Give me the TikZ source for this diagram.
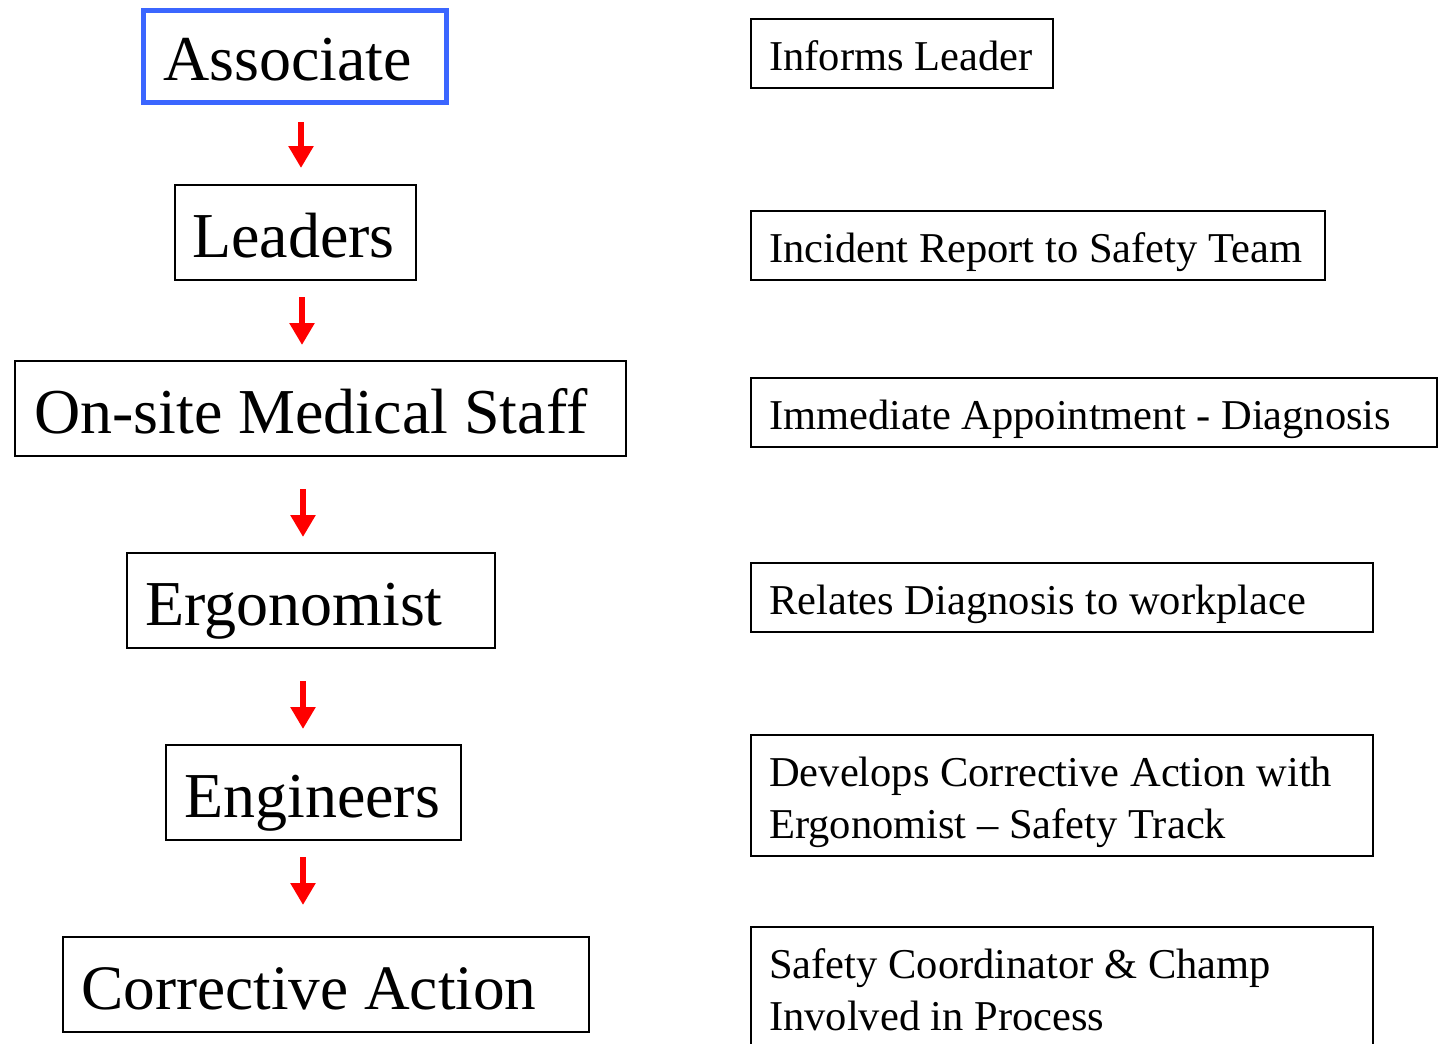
\documentclass[tikz,border=0pt]{standalone}
\usepackage{fontspec}
\setmainfont{Liberation Serif}
\usetikzlibrary{arrows.meta}
\definecolor{boxblue}{RGB}{59,102,255}
\begin{document}
\begin{tikzpicture}[x=1pt,y=-1pt,
  lbox/.style={draw=black, line width=2pt, minimum height=95pt, anchor=north west, inner sep=0pt, outer sep=0pt},
  rbox/.style={draw=black, line width=2pt, minimum height=69pt, anchor=north west, inner sep=0pt, outer sep=0pt},
  ltext/.style={anchor=base west, inner sep=0pt, font=\fontsize{64}{77}\selectfont},
  rtext/.style={anchor=base west, inner sep=0pt, font=\fontsize{42.5}{52}\selectfont},
  redarrow/.style={draw=red, line width=6pt, -{Triangle[width=24pt,length=22pt]}}]
\useasboundingbox (0,0) rectangle (1441,1044);
\clip (0,0) rectangle (1441,1044);
% left column boxes
\node[lbox, draw=boxblue, line width=5pt, minimum width=303pt, minimum height=92pt] (a) at (143.5,10.5) {};
\node[lbox, minimum width=241pt] (b) at (175,185) {};
\node[lbox, minimum width=611pt] (c) at (15,361) {};
\node[lbox, minimum width=368pt] (d) at (127,553) {};
\node[lbox, minimum width=295pt] (e) at (166,745) {};
\node[lbox, minimum width=526pt] (f) at (63,937) {};
% left texts
\node[ltext] (ta) at (163,80) {Associate};
\node[ltext] (tb) at (192,257) {Leaders};
\node[ltext] (tc) at (34,433) {On-site Medical Staff};
\node[ltext] (td) at (145,625) {Ergonomist};
\node[ltext] (te) at (184,817) {Engineers};
\node[ltext, font=\fontsize{63.3}{77}\selectfont] (tf) at (81,1009) {Corrective Action};
% arrows
\coordinate (x1) at (301,0);
\coordinate (x2) at (302,0);
\coordinate (x3) at (303,0);
\draw[redarrow, shorten <=19.5pt, shorten >=17pt] (a.south -| x1) -- (b.north -| x1);
\draw[redarrow, shorten <=17pt, shorten >=16pt] (b.south -| x2) -- (c.north -| x2);
\draw[redarrow, shorten <=33pt, shorten >=16pt] (c.south -| x3) -- (d.north -| x3);
\draw[redarrow, shorten <=33pt, shorten >=16pt] (d.south -| x3) -- (e.north -| x3);
\draw[redarrow, shorten <=17pt, shorten >=32pt] (e.south -| x3) -- (f.north -| x3);
% right column boxes
\node[rbox, minimum width=302pt] (r1) at (751,19) {};
\node[rbox, minimum width=574pt] (r2) at (751,211) {};
\node[rbox, minimum width=686pt] (r3) at (751,378) {};
\node[rbox, minimum width=622pt] (r4) at (751,563) {};
\node[rbox, minimum width=622pt, minimum height=121pt] (r5) at (751,735) {};
\node[rbox, minimum width=622pt, minimum height=140pt] (r6) at (751,927) {};
% right texts
\node[rtext] (s1) at (769,70) {Informs Leader};
\node[rtext] (s2) at (769,262) {Incident Report to Safety Team};
\node[rtext] (s3) at (769,429) {Immediate Appointment - Diagnosis};
\node[rtext] (s4) at (769,614) {Relates Diagnosis to workplace};
\node[rtext] (s5a) at (769,786) {Develops Corrective Action with};
\node[rtext] (s5b) at (769,838) {Ergonomist – Safety Track};
\node[rtext] (s6a) at (769,978) {Safety Coordinator \& Champ};
\node[rtext] (s6b) at (769,1030) {Involved in Process};
\end{tikzpicture}
\end{document}
